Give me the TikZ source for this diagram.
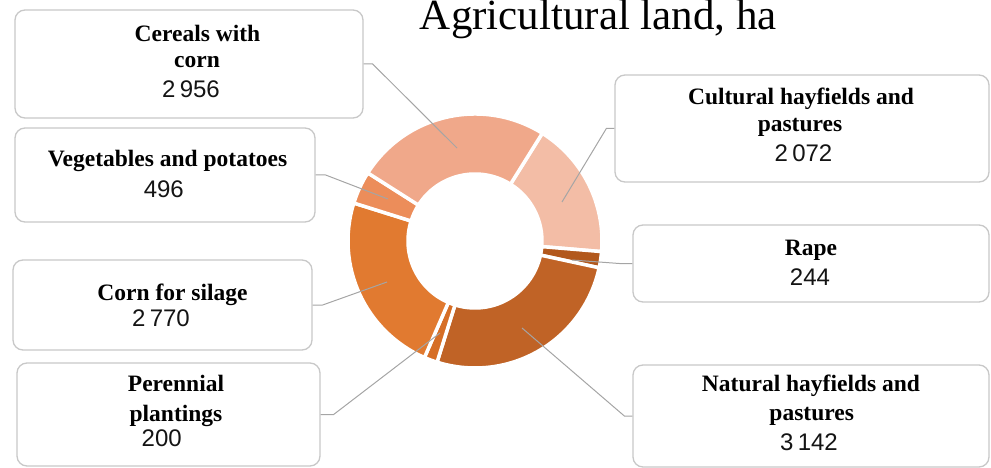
\documentclass[tikz,border=0pt]{standalone}
\usepackage{fontspec}
\setmainfont{Liberation Serif}
\newfontfamily\numfont{Liberation Sans}
\definecolor{cCer}{RGB}{240,168,138}
\definecolor{cCul}{RGB}{243,189,166}
\definecolor{cVeg}{RGB}{236,141,90}
\definecolor{cCorn}{RGB}{225,122,48}
\definecolor{cPer}{RGB}{214,110,38}
\definecolor{cNat}{RGB}{192,99,38}
\definecolor{cRape}{RGB}{178,88,28}
\definecolor{boxgray}{RGB}{200,200,200}
\definecolor{conngray}{RGB}{165,165,165}
\definecolor{numblack}{RGB}{20,20,20}
\newcommand{\nsp}{\hspace{0.18em}}
\begin{document}
\begin{tikzpicture}[x=1pt,y=-1pt,
  box/.style={draw=boxgray, line width=1.3pt, rounded corners=10pt, fill=white, inner sep=0pt},
  lab/.style={font=\fontsize{23.5}{28}\selectfont\bfseries, anchor=base, inner sep=0pt},
  num/.style={font=\fontsize{24}{28}\numfont, anchor=base, inner sep=0pt, text=numblack},
  conn/.style={draw=conngray, line width=1pt},
  seg/.style={draw=white, line width=3.5pt, line join=miter}]
\useasboundingbox (0,0) rectangle (991,468);

% title
\node[font=\fontsize{43}{50}\selectfont, anchor=base, inner sep=0pt] (title) at (598.5,30) {Agricultural land, ha};

% donut
\begin{scope}[shift={(475,241)}, yscale=-1]
  \def\ro{127}\def\ri{67}
  \fill[cCul, seg]  (58:\ro) arc[start angle=58, end angle=-4.79, radius=\ro] -- (-4.79:\ri) arc[start angle=-4.79, end angle=58, radius=\ri] -- cycle;
  \fill[cRape, seg] (-4.79:\ro) arc[start angle=-4.79, end angle=-12.18, radius=\ro] -- (-12.18:\ri) arc[start angle=-12.18, end angle=-4.79, radius=\ri] -- cycle;
  \fill[cNat, seg]  (-12.18:\ro) arc[start angle=-12.18, end angle=-107.39, radius=\ro] -- (-107.39:\ri) arc[start angle=-107.39, end angle=-12.18, radius=\ri] -- cycle;
  \fill[cPer, seg]  (-107.39:\ro) arc[start angle=-107.39, end angle=-113.45, radius=\ro] -- (-113.45:\ri) arc[start angle=-113.45, end angle=-107.39, radius=\ri] -- cycle;
  \fill[cCorn, seg] (-113.45:\ro) arc[start angle=-113.45, end angle=-197.39, radius=\ro] -- (-197.39:\ri) arc[start angle=-197.39, end angle=-113.45, radius=\ri] -- cycle;
  \fill[cVeg, seg]  (-197.39:\ro) arc[start angle=-197.39, end angle=-212.42, radius=\ro] -- (-212.42:\ri) arc[start angle=-212.42, end angle=-197.39, radius=\ri] -- cycle;
  \fill[cCer, seg]  (-212.42:\ro) arc[start angle=-212.42, end angle=-302, radius=\ro] -- (-302:\ri) arc[start angle=-302, end angle=-212.42, radius=\ri] -- cycle;
\end{scope}

% points on the ring
\coordinate (pcer)  at (457,148);
\coordinate (pveg)  at (388,199);
\coordinate (pcorn) at (387,282);
\coordinate (pper)  at (440,333);
\coordinate (pcul)  at (562,202);
\coordinate (prape) at (572,260);
\coordinate (pnat)  at (522,328);

% boxes
\node[box, minimum width=348pt, minimum height=108pt] (cer)  at (189,64) {};
\node[box, minimum width=300pt, minimum height=94pt]  (veg)  at (165,175) {};
\node[box, minimum width=299pt, minimum height=90pt]  (corn) at (162.5,305) {};
\node[box, minimum width=303pt, minimum height=103pt] (per)  at (168.5,414.5) {};
\node[box, minimum width=374pt, minimum height=107pt] (cul)  at (802,128.5) {};
\node[box, minimum width=356pt, minimum height=77pt]  (rape) at (811,263.5) {};
\node[box, minimum width=356pt, minimum height=102pt] (nat)  at (811,416) {};

% connectors
\draw[conn] (cer.east)  -- ++(9,0)   -- (pcer);
\draw[conn] (veg.east)  -- ++(10,0)  -- (pveg);
\draw[conn] (corn.east) -- ++(10,0)  -- (pcorn);
\draw[conn] (per.east)  -- ++(13,0)  -- (pper);
\draw[conn] (cul.west)  -- ++(-8,0)  -- (pcul);
\draw[conn] (rape.west) -- ++(-13,0) -- (prape);
\draw[conn] (nat.west)  -- ++(-8,0)  -- (pnat);

% texts
\node[lab] (cer1) at (197.5,41.7) {Cereals with};
\node[lab] (cer2) at (197,68) {corn};
\node[num] (cer3) at (191,98) {2\nsp956};

\node[lab] (veg1) at (167.5,167) {Vegetables and potatoes};
\node[num] (veg2) at (163.8,197) {496};

\node[lab] (corn1) at (172.5,300) {Corn for silage};
\node[num] (corn2) at (161,326) {2\nsp770};

\node[lab] (per1) at (176,391.7) {Perennial};
\node[lab] (per2) at (176,421.7) {plantings};
\node[num] (per3) at (161.7,446.7) {200};

\node[lab] (cul1) at (801,105) {Cultural hayfields and};
\node[lab] (cul2) at (800,131.7) {pastures};
\node[num] (cul3) at (803.5,161.7) {2\nsp072};

\node[lab] (rape1) at (811,255) {Rape};
\node[num] (rape2) at (810,285) {244};

\node[lab] (nat1) at (811,391.7) {Natural hayfields and};
\node[lab] (nat2) at (811.7,420) {pastures};
\node[num] (nat3) at (809,450) {3\nsp142};
\end{tikzpicture}
\end{document}
